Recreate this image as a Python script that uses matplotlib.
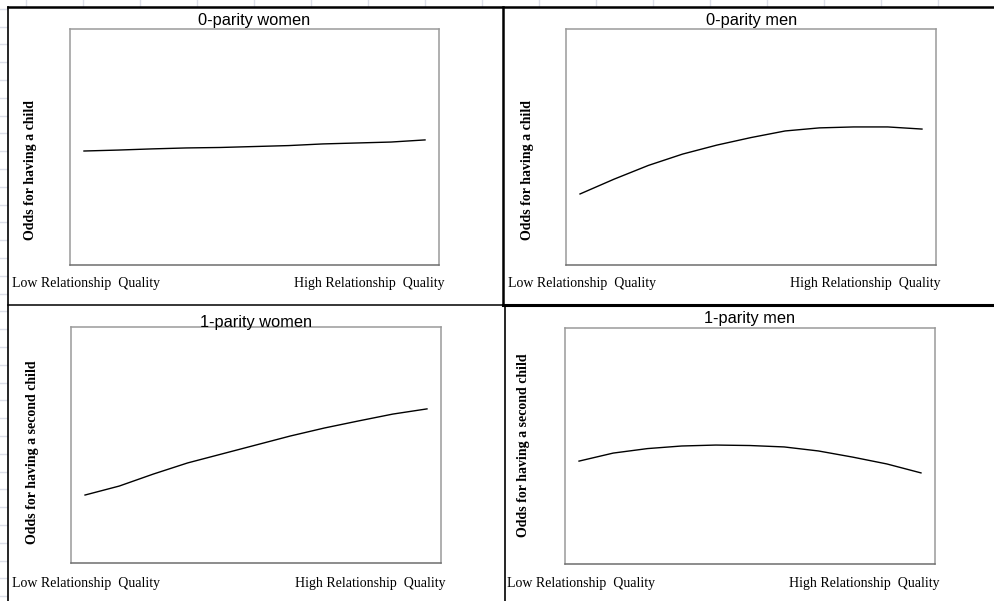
import matplotlib
matplotlib.use("Agg")
import matplotlib.pyplot as plt
import numpy as np

W, H = 994, 601

# relationship quality steps (low -> high)
quality = np.arange(11)

# odds (arbitrary units, 0-10 axis)
women_0 = [4.83, 4.87, 4.92, 4.96, 4.98, 5.02, 5.06, 5.13, 5.17, 5.21, 5.30]
men_0 = [3.01, 3.64, 4.22, 4.70, 5.08, 5.40, 5.68, 5.81, 5.85, 5.85, 5.76]
women_1 = [2.88, 3.26, 3.77, 4.24, 4.62, 5.00, 5.38, 5.72, 6.02, 6.31, 6.53]
men_1 = [4.36, 4.70, 4.89, 5.00, 5.04, 5.02, 4.96, 4.79, 4.53, 4.24, 3.86]

titles = ["0-parity women", "0-parity men", "1-parity women", "1-parity men"]
ylabels = ["Odds for having a child", "Odds for having a child",
           "Odds for having a second child", "Odds for having a second child"]
series = [women_0, men_0, women_1, men_1]

# panel layout in pixels: plot box (x0, y0, x1, y1), title pos, ylabel pos, xlabel row
panels = [
    dict(box=(70, 29, 439, 265), title=(254, 21), ylab=(31, 170), low=12, high=294, xrow=284),
    dict(box=(566, 29, 936, 265), title=(752, 20), ylab=(527, 170), low=508, high=790, xrow=284),
    dict(box=(71, 327, 441, 563), title=(256, 322), ylab=(33, 452), low=12, high=295, xrow=583),
    dict(box=(565, 328, 935, 564), title=(750, 319), ylab=(524, 445), low=507, high=789, xrow=584),
]

fig = plt.figure(figsize=(W / 100, H / 100), dpi=100)
fig.patch.set_facecolor("white")

# background layer in pixel coordinates for the sheet grid and cell borders
bg = fig.add_axes([0, 0, 1, 1])
bg.set_xlim(0, W)
bg.set_ylim(H, 0)
bg.axis("off")
for gx in np.arange(26, W, 57):
    bg.plot([gx, gx], [0, 6], color="#dcdfe9", lw=1)
for gy in np.arange(8.7, H, 17.8):
    bg.plot([0, 7], [gy, gy], color="#dcdfe9", lw=1)

bg.plot([8, W], [7, 7], color="black", lw=1.8)
bg.plot([8, 8], [7, H], color="black", lw=1.2)
bg.plot([503, 503], [7, 305], color="black", lw=1.8)
bg.plot([505, 505], [305, H], color="black", lw=1.2)
bg.plot([8, 503], [305, 305], color="black", lw=1.1)
bg.plot([503, W], [305, 305], color="black", lw=2.2)

for p, title, ylab, vals in zip(panels, titles, ylabels, series):
    x0, y0, x1, y1 = p["box"]
    ax = fig.add_axes([x0 / W, 1 - y1 / H, (x1 - x0) / W, (y1 - y0) / H])
    ax.plot(quality, vals, color="black", lw=1.0)
    ax.set_xlim(-0.41, 10.41)
    ax.set_ylim(0, 10)
    ax.set_xticks([])
    ax.set_yticks([])
    for side in ax.spines.values():
        side.set_color("#9a9a9a")
        side.set_linewidth(1.1)
    ax.spines["bottom"].set_color("#6e6e6e")

    tx, ty = p["title"]
    fig.text(tx / W, 1 - ty / H, title, ha="center", va="center",
             fontsize=11.8, family="Liberation Sans", color="black")
    lx, ly = p["ylab"]
    fig.text(lx / W, 1 - ly / H, ylab, ha="center", va="center", rotation=90,
             fontsize=10, family="Liberation Serif", weight="bold")
    fig.text(p["low"] / W, 1 - p["xrow"] / H, "Low Relationship  Quality",
             ha="left", va="center", fontsize=10, family="Liberation Serif")
    fig.text(p["high"] / W, 1 - p["xrow"] / H, "High Relationship  Quality",
             ha="left", va="center", fontsize=10, family="Liberation Serif")

fig.savefig("out.png", dpi=100, facecolor="white")
